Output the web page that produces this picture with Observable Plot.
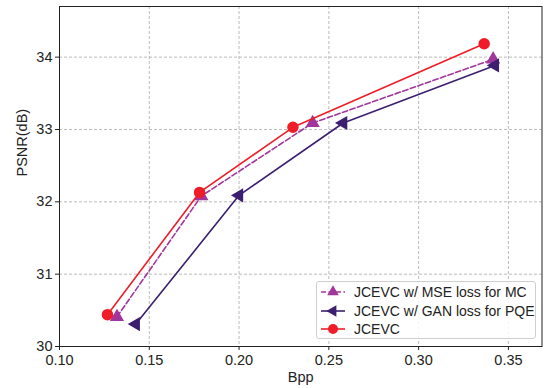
<!DOCTYPE html>
<html>
<head>
<meta charset="utf-8">
<script src="https://cdn.jsdelivr.net/npm/d3@7"></script>
<script src="https://cdn.jsdelivr.net/npm/@observablehq/plot@0.6"></script>
<style>
  html, body { margin: 0; padding: 0; background: #fff; }
  #wrap { position: relative; width: 544px; height: 388px; font-family: "Liberation Sans", Arial, sans-serif; }
  #legend { position: absolute; left: 316px; top: 281px; width: 220px; height: 58px;
    border: 1px solid #cfcfcf; border-radius: 3px; background: rgba(255,255,255,0.85);
    box-sizing: border-box; padding-top: 1px; }
  .row { display: flex; align-items: center; height: 18.5px; font-size: 14px; color: #222; }
  .row svg { margin-left: 3px; margin-right: 8px; }
</style>
</head>
<body>
<div id="wrap"></div>
<script>
// ---- data ----
const seriesNames = ["JCEVC w/ MSE loss for MC", "JCEVC w/ GAN loss for PQE", "JCEVC"];
const bppMSE  = [0.132, 0.179, 0.241, 0.3415];
const psnrMSE = [30.41, 32.08, 33.09, 33.97];
const bppGAN  = [0.1425, 0.200, 0.258, 0.3425];
const psnrGAN = [30.31, 32.09, 33.09, 33.885];
const bppJ    = [0.1267, 0.178, 0.230, 0.3365];
const psnrJ   = [30.44, 32.13, 33.03, 34.185];
const xTicks = [0.10, 0.15, 0.20, 0.25, 0.30, 0.35];
const yTicks = [30, 31, 32, 33, 34];

const colMSE = "#a1369d", colGAN = "#3c1f70", colJ = "#ee1d27";

const toRows = (xs, ys) => xs.map((x, i) => ({bpp: x, psnr: ys[i]}));
const mse = toRows(bppMSE, psnrMSE);
const gan = toRows(bppGAN, psnrGAN);
const jce = toRows(bppJ, psnrJ);

const chart = Plot.plot({
  width: 544, height: 388,
  marginLeft: 59, marginRight: 2.5, marginTop: 6, marginBottom: 42,
  style: {fontFamily: '"Liberation Sans", Arial, sans-serif', fontSize: "14px", color: "#222", background: "#fff"},
  x: {domain: [0.1, 0.3687]},
  y: {domain: [30, 34.7]},
  marks: [
    Plot.gridX(xTicks, {stroke: "#b3b3b3", strokeOpacity: 1, strokeDasharray: "3,2", strokeWidth: 0.9}),
    Plot.gridY(yTicks, {stroke: "#b3b3b3", strokeOpacity: 1, strokeDasharray: "3,2", strokeWidth: 0.9}),
    Plot.axisX({ticks: xTicks, tickFormat: d3.format(".2f"), tickSize: 4, tickPadding: 4, fontSize: 14.5, label: null, stroke: "#222"}),
    Plot.axisY({ticks: yTicks, tickFormat: d3.format("d"), tickSize: 4, tickPadding: 3, fontSize: 14.5, label: null, stroke: "#222"}),
    Plot.text(["Bpp"], {frameAnchor: "bottom", dy: 35, fontSize: 14.5, fill: "#222"}),
    Plot.text(["PSNR(dB)"], {frameAnchor: "left", dx: -37, rotate: -90, fontSize: 14.5, fill: "#222"}),
    // MSE series
    Plot.line(mse, {x: "bpp", y: "psnr", stroke: colMSE, strokeWidth: 1.6, strokeDasharray: "5.5,2.5"}),
    Plot.dot(mse, {x: "bpp", y: "psnr", symbol: "triangle", r: 4.3, fill: colMSE, stroke: colMSE}),
    // GAN series
    Plot.line(gan, {x: "bpp", y: "psnr", stroke: colGAN, strokeWidth: 1.6}),
    Plot.dot(gan, {x: "bpp", y: "psnr", symbol: "triangle", rotate: -90, r: 4.3, fill: colGAN, stroke: colGAN}),
    // JCEVC
    Plot.line(jce, {x: "bpp", y: "psnr", stroke: colJ, strokeWidth: 1.6}),
    Plot.dot(jce, {x: "bpp", y: "psnr", symbol: "circle", r: 5, fill: colJ, stroke: colJ}),
    Plot.frame({stroke: "#222", strokeWidth: 1})
  ]
});

const wrap = document.getElementById("wrap");
wrap.appendChild(chart);

// legend
const legend = document.createElement("div");
legend.id = "legend";
const sw = [
  {c: colMSE, dash: "5,2.5", marker: `<path d="${d3.symbol(d3.symbolTriangle, Math.PI*4.3*4.3)()}" transform="translate(13,9)" fill="${colMSE}"/>`},
  {c: colGAN, dash: null, marker: `<path d="${d3.symbol(d3.symbolTriangle, Math.PI*4.3*4.3)()}" transform="translate(13,9) rotate(-90)" fill="${colGAN}"/>`},
  {c: colJ, dash: null, marker: `<circle cx="13" cy="9" r="5" fill="${colJ}"/>`}
];
seriesNames.forEach((name, i) => {
  const row = document.createElement("div");
  row.className = "row";
  const s = sw[i];
  row.innerHTML = `<svg width="26" height="18"><line x1="1" x2="25" y1="9" y2="9" stroke="${s.c}" stroke-width="1.6" ${s.dash ? `stroke-dasharray="${s.dash}"` : ""}/>${s.marker}</svg><span>${name}</span>`;
  legend.appendChild(row);
});
wrap.appendChild(legend);
</script>
</body>
</html>
